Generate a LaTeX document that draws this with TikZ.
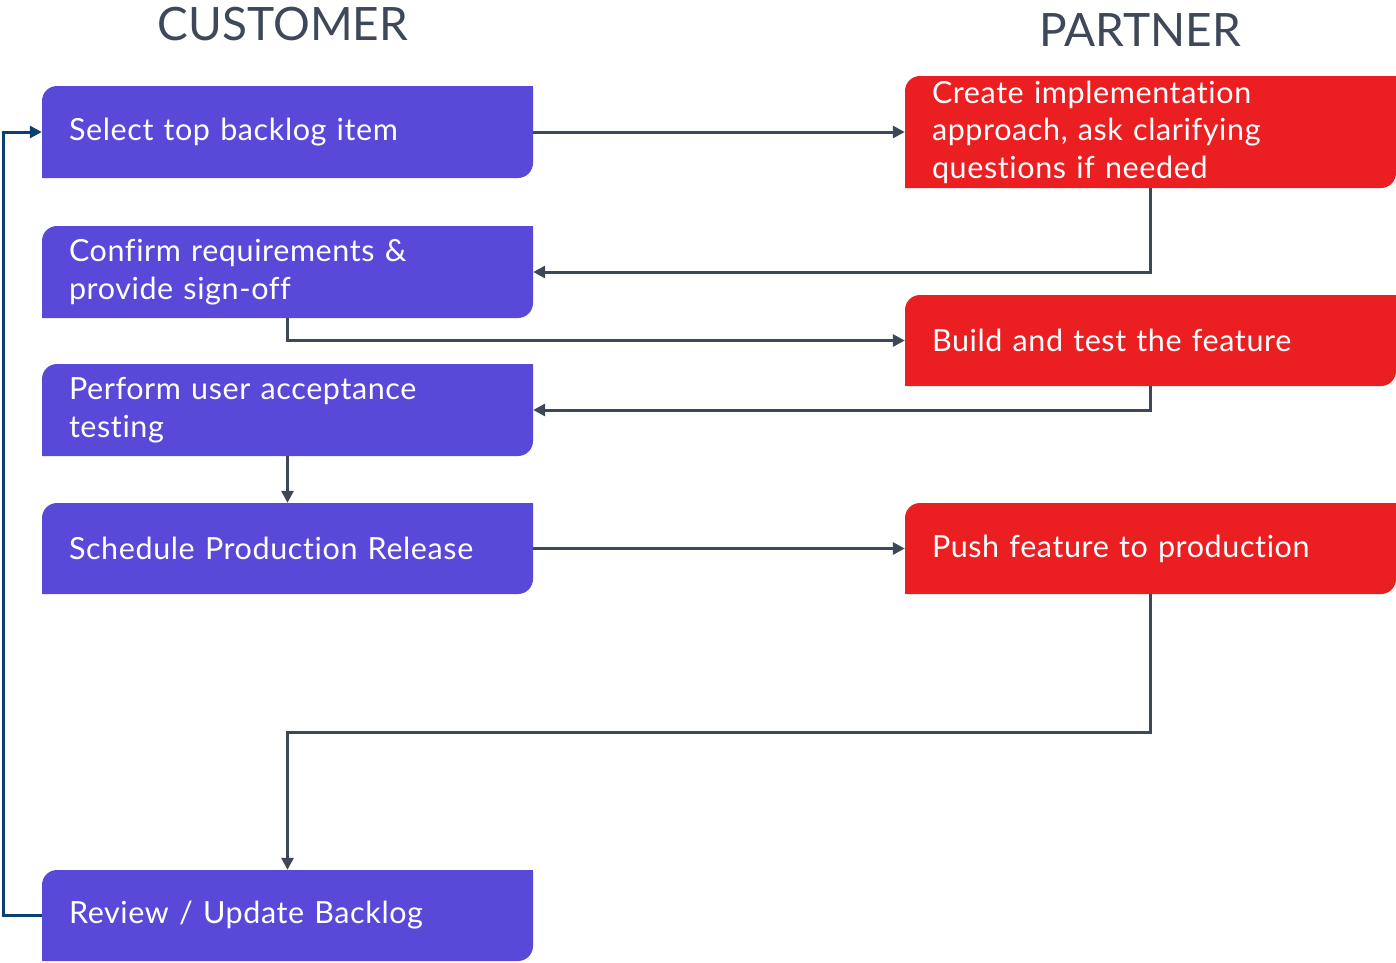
\documentclass[tikz,border=0pt]{standalone}
\usepackage{fontspec}
\setmainfont{Lato}
\newfontfamily\boxfont[LetterSpace=2,Ligatures={NoCommon,NoRare,NoContextual}]{Lato}
\usetikzlibrary{arrows.meta}
\definecolor{bluefill}{HTML}{5849D8}
\definecolor{redfill}{HTML}{EB1F22}
\definecolor{connc}{HTML}{3E4758}
\definecolor{loopc}{HTML}{0B4170}
\definecolor{titlec}{HTML}{3F4859}
\tikzset{
  boxtext/.style={rectangle, draw=none, inner xsep=27pt, inner ysep=0pt, text width=437pt,
    align=left, text=white, font=\boxfont\fontsize{30.5}{37.5}\selectfont},
  conn/.style={draw=connc, line width=3pt, -{Triangle[length=12pt,width=12pt]}},
  loopconn/.style={draw=loopc, line width=3pt, -{Triangle[length=12pt,width=12pt]}},
  title/.style={text=titlec, font=\fontsize{46}{54}\selectfont}
}
\newcommand\flowbox[7]{%
  \fill[#2] (#3,-#6) -- (#3,-#4-15) arc[start angle=180,end angle=90,radius=15] -- (#5,-#4)
    -- (#5,-#6+15) arc[start angle=0,end angle=-90,radius=15] -- cycle;
  \node[boxtext, minimum width=#5-#3, minimum height=#6-#4] (#1) at ({(#3+#5)/2},{-(#4+#6)/2}) {#7};
}
\begin{document}
\begin{tikzpicture}[x=1pt,y=1pt]
\useasboundingbox (0,0) rectangle (1396,-962);
\node[title] (tc) at (283,-24) {CUSTOMER};
\node[title] (tp) at (1140,-30) {PARTNER};
\flowbox{b1}{bluefill}{42}{86}{533}{178}{Select top backlog item}
\flowbox{b2}{bluefill}{42}{226}{533}{318}{Confirm requirements \&\\provide sign-off}
\flowbox{b3}{bluefill}{42}{364}{533}{456}{Perform user acceptance\\testing}
\flowbox{b4}{bluefill}{42}{503}{533}{594}{Schedule Production Release}
\flowbox{b5}{bluefill}{42}{870}{533}{961}{Review / Update Backlog}
\flowbox{r1}{redfill}{905}{76}{1396}{188}{Create implementation\\approach, ask clarifying\\questions if needed}
\flowbox{r2}{redfill}{905}{295}{1396}{386}{Build and test the feature}
\flowbox{r3}{redfill}{905}{503}{1396}{594}{Push feature to production}
\coordinate (mid) at (0,-732);
\coordinate (lx) at (3,0);
\draw[conn] (b1.east) -- (r1.west);
\draw[conn] (r1.south) |- (b2.east);
\draw[conn] (b2.south) |- (r2.west);
\draw[conn] (r2.south) |- (b3.east);
\draw[conn] (b3.south) -- (b4.north);
\draw[conn] (b4.east) -- (r3.west);
\draw[conn] (r3.south) -- (r3.south |- mid) -| (b5.north);
\draw[loopconn] (b5.west) -- (b5.west -| lx) |- (b1.west);
\end{tikzpicture}
\end{document}
